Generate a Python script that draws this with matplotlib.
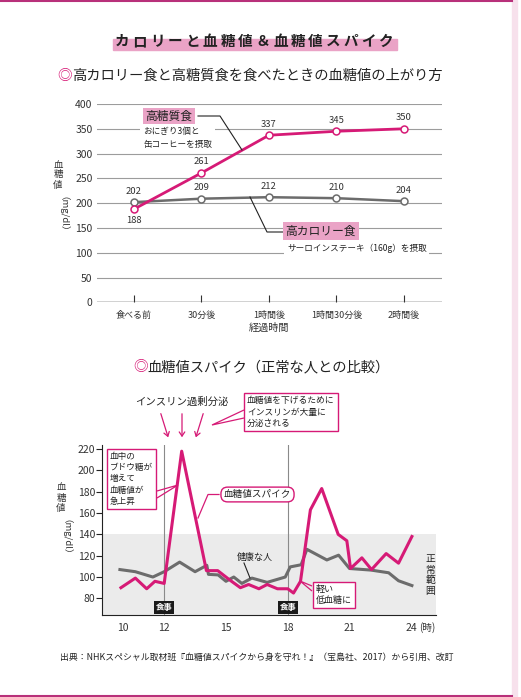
import matplotlib.pyplot as plt
from matplotlib.patches import Rectangle, Polygon, FancyArrowPatch
from matplotlib.lines import Line2D

plt.rcParams['font.family'] = ['Noto Sans CJK JP', 'DejaVu Sans']

W, H = 521, 697

# upper chart: blood sugar after a meal
meal_times = ['食べる前', '30分後', '1時間後', '1時間30分後', '2時間後']
high_carb = [188, 261, 337, 345, 350]
high_cal = [202, 209, 212, 210, 204]

# lower chart: blood sugar spike vs healthy person
spike_hours = [9.9, 10.6, 11.15, 11.55, 12.0, 12.85, 14.05, 14.6, 15.2, 15.7, 16.1, 16.6,
               17.0, 17.5, 18.0, 18.28, 18.62, 19.1, 19.65, 20.45, 20.87, 21.05, 21.6,
               22.07, 22.78, 23.38, 24.03]
spike_vals = [90, 99, 89, 96, 94, 218, 106, 106, 97, 90, 93, 89,
              93, 89, 89, 85, 96, 163, 183, 140, 134, 108, 118,
              107, 122, 113, 138]
healthy_hours = [9.85, 10.6, 11.45, 12.0, 12.75, 13.5, 14.07, 14.15, 14.62, 15.0, 15.38,
                 15.77, 16.26, 17.0, 17.88, 18.12, 18.65, 18.93, 19.9, 20.47, 21.0,
                 22.05, 22.9, 23.38, 24.03]
healthy_vals = [107, 105, 100, 105, 114, 105, 111, 102.5, 102, 96, 100,
                94, 99, 95, 100, 109.5, 111.5, 126, 116, 120.5, 108,
                106.5, 104, 96.5, 92]
meal_hours = [12, 18]
hour_ticks = [10, 12, 15, 18, 21, 24]

PINK = '#d61a76'
PINK_LIGHT = '#eaa3c6'
GRAY = '#6c6c6c'
DARK = '#222222'

fig = plt.figure(figsize=(W / 100, H / 100), dpi=100)


def fx(px):
    return px / W


def fy(py):
    return 1 - py / H


def text_px(x, y, s, **kw):
    return fig.text(fx(x), fy(y), s, **kw)


def line_px(xs, ys, color=DARK, lw=0.8):
    fig.add_artist(Line2D([fx(x) for x in xs], [fy(y) for y in ys], color=color,
                          lw=lw, transform=fig.transFigure, zorder=10))


def wedge_px(pts, color=PINK):
    fig.add_artist(Polygon([(fx(x), fy(y)) for x, y in pts], closed=False, fill=False,
                           ec=color, lw=0.9, transform=fig.transFigure, zorder=10))


# page border bits
line_px([0, 512], [0.8, 0.8], color='#b8307a', lw=1.5)
line_px([0, 512], [696, 696], color='#b8307a', lw=1.5)
fig.add_artist(Rectangle((fx(512), 0), 5 / W, 1, color='#f7e1ec', transform=fig.transFigure))

# main title with highlighter
fig.add_artist(Rectangle((fx(113), fy(49.5)), (397 - 113) / W, 11 / H, color=PINK_LIGHT,
                         transform=fig.transFigure, zorder=1))
title = 'カロリーと血糖値＆血糖値スパイク'
for i, ch in enumerate(title):
    text_px(122 + i * 17.6, 41, ch, ha='center', va='center', fontsize=10.5,
            weight='bold', color=DARK, zorder=2)

# subtitle 1
text_px(57, 76, '◎', ha='left', va='center', fontsize=10.5, color=PINK)
text_px(72, 76, '高カロリー食と高糖質食を食べたときの血糖値の上がり方', ha='left', va='center',
        fontsize=10.3, color=DARK)

# ---------- upper chart ----------
ax1 = fig.add_axes([fx(96.7), fy(302.3), (441.7 - 96.7) / W, (302.3 - 104) / H])
x = list(range(len(meal_times)))
ax1.plot(x, high_cal, color=GRAY, lw=1.8, marker='o', ms=5, mfc='white', mec=GRAY, mew=1.1,
         zorder=3, clip_on=False)
ax1.plot(x, high_carb, color=PINK, lw=2, marker='o', ms=5, mfc='white', mec=PINK, mew=1.1,
         zorder=4, clip_on=False)
for i in x:
    ax1.annotate(str(high_cal[i]), (i, high_cal[i]), textcoords='offset points', xytext=(0, 8),
                 ha='center', va='center', fontsize=6.8, color='#333333')
    dy = -8.5 if i == 0 else 8
    ax1.annotate(str(high_carb[i]), (i, high_carb[i]), textcoords='offset points', xytext=(0, dy),
                 ha='center', va='center', fontsize=6.8, color='#333333')

ax1.set_xlim(-0.553, 4.56)
ax1.set_ylim(0, 400)
ax1.set_yticks(range(0, 401, 50))
ax1.set_xticks(x)
ax1.set_xticklabels(meal_times)
ax1.grid(axis='y', color='#9c9c9c', lw=0.8)
ax1.set_axisbelow(True)
ax1.axhline(0, color='#333333', lw=1, zorder=2)
for s in ax1.spines.values():
    s.set_visible(False)
ax1.tick_params(axis='y', length=0, pad=3, labelsize=7.5, labelcolor='#333333')
ax1.tick_params(axis='x', direction='in', length=5, width=0.8, color='#333333', pad=6,
                labelsize=6.5, labelcolor='#333333')

text_px(269, 328, '経過時間', ha='center', va='center', fontsize=7.3, color='#333333')
for ch, yy in zip('血糖値', [165, 175, 185]):
    text_px(58, yy, ch, ha='center', va='center', fontsize=6.8, color='#333333')
text_px(58, 219, '（mg/dl）', ha='center', va='center', fontsize=6.8, rotation=-90,
        color='#333333')

# callouts upper
text_px(169, 116.5, '高糖質食', ha='center', va='center', fontsize=8.5, color=DARK,
        bbox=dict(boxstyle='square,pad=0.2', fc=PINK_LIGHT, ec='none'), zorder=11)
line_px([198, 220, 242], [116, 116, 150])
text_px(143, 138, 'おにぎり3個と\n缶コーヒーを摂取', ha='left', va='center', fontsize=6.2,
        linespacing=1.6, color=DARK, bbox=dict(boxstyle='square,pad=0.3', fc='white', ec='none'),
        zorder=11)
text_px(321, 231, '高カロリー食', ha='center', va='center', fontsize=8.5, color=DARK,
        bbox=dict(boxstyle='square,pad=0.2', fc=PINK_LIGHT, ec='none'), zorder=11)
line_px([250, 267, 287], [197, 232, 232])
text_px(287, 248, 'サーロインステーキ（160g）を摂取', ha='left', va='center', fontsize=6.2,
        color=DARK, bbox=dict(boxstyle='square,pad=0.3', fc='white', ec='none'), zorder=11)

# subtitle 2
text_px(133, 367, '◎', ha='left', va='center', fontsize=10.5, color=PINK)
text_px(147, 367, '血糖値スパイク（正常な人との比較）', ha='left', va='center', fontsize=10.3,
        color=DARK)

# ---------- lower chart ----------
ax2 = fig.add_axes([fx(102), fy(615), (436 - 102) / W, (615 - 445) / H])
ax2.set_xlim(8.98, 25.2)
ax2.set_ylim(64.4, 223.8)
ax2.axhspan(64.4, 140, color='#ebebeb', zorder=0, lw=0)
for h in meal_hours:
    ax2.axvline(h, color='#8a8a8a', lw=0.8, zorder=1)
    ax2.text(h, 71.4, '食事', ha='center', va='center', fontsize=6, weight='bold', color='white',
             bbox=dict(boxstyle='square,pad=0.2', fc='#1a1a1a', ec='none'), zorder=5)
ax2.plot(healthy_hours, healthy_vals, color=GRAY, lw=2.2, zorder=3)
ax2.plot(spike_hours, spike_vals, color=PINK, lw=2.2, zorder=4)

ax2.set_yticks(range(80, 221, 20))
ax2.set_xticks(hour_ticks)
ax2.set_xticklabels([str(h) for h in hour_ticks])
ax2.spines['top'].set_visible(False)
ax2.spines['right'].set_visible(False)
ax2.spines['left'].set_color(DARK)
ax2.spines['bottom'].set_color(DARK)
ax2.tick_params(axis='y', length=4, width=0.8, color=DARK, pad=1, labelsize=7.5,
                labelcolor='#333333')
ax2.tick_params(axis='x', length=0, pad=6, labelsize=7.5, labelcolor='#333333')
# hour unit next to the last tick label
ax2.annotate('(時)', (24, 0), xycoords=('data', 'axes fraction'), textcoords='offset points',
             xytext=(5.5, -9.3), ha='left', va='center', fontsize=7, color='#333333',
             annotation_clip=False)

ax2.text(24.92, 101.9, '正\n常\n範\n囲', ha='center', va='center', fontsize=7, linespacing=1.05,
         color=DARK)

for ch, yy in zip('血糖値', [488, 498, 508]):
    text_px(61, yy, ch, ha='center', va='center', fontsize=6.8, color='#333333')
text_px(61, 542, '（mg/dl）', ha='center', va='center', fontsize=6.8, rotation=-90,
        color='#333333')

# callouts lower
text_px(182, 402, 'インスリン過剰分泌', ha='center', va='center', fontsize=7.5, color=DARK)
for (x0, x1) in [(160, 169), (182, 182), (204, 195)]:
    fig.add_artist(FancyArrowPatch(
        (fx(x0), fy(411)), (fx(x1), fy(440)), transform=fig.transFigure,
        arrowstyle='->,head_length=3,head_width=2', color=PINK, lw=0.9, zorder=10))

text_px(247, 412, '血糖値を下げるために\nインスリンが大量に\n分泌される', ha='left', va='center',
        fontsize=6.3, linespacing=1.3, color=DARK,
        bbox=dict(boxstyle='square,pad=0.35', fc='white', ec=PINK, lw=1), zorder=11)
wedge_px([(244, 410), (212, 425), (244, 418)])

text_px(110, 479, '血中の\nブドウ糖が\n増えて\n血糖値が\n急上昇', ha='left', va='center',
        fontsize=6.2, linespacing=1.3, color=DARK,
        bbox=dict(boxstyle='square,pad=0.35', fc='white', ec=PINK, lw=1), zorder=11)
wedge_px([(157, 491), (178, 485), (157, 498)])

text_px(257.5, 494.5, '血糖値スパイク', ha='center', va='center', fontsize=6.9, color=DARK,
        bbox=dict(boxstyle='round,pad=0.3,rounding_size=0.7', fc='white', ec=PINK, lw=1),
        zorder=11)
line_px([219, 208, 198], [494.5, 494.5, 518], color=PINK, lw=0.9)

text_px(255, 557, '健康な人', ha='center', va='center', fontsize=6.5, color=DARK, zorder=11)
line_px([244, 250], [563, 578], color=DARK, lw=0.8)

text_px(316, 595, '軽い\n低血糖に', ha='left', va='center', fontsize=6.5, linespacing=1.35,
        color=DARK, bbox=dict(boxstyle='square,pad=0.3', fc='white', ec=PINK, lw=1), zorder=11)
wedge_px([(312, 586), (300, 581), (312, 591)])

# source
text_px(257, 657, '出典：NHKスペシャル取材班『血糖値スパイクから身を守れ！』（宝島社、2017）から引用、改訂',
        ha='center', va='center', fontsize=6.4, color=DARK)

fig.savefig('out.png', dpi=100)
